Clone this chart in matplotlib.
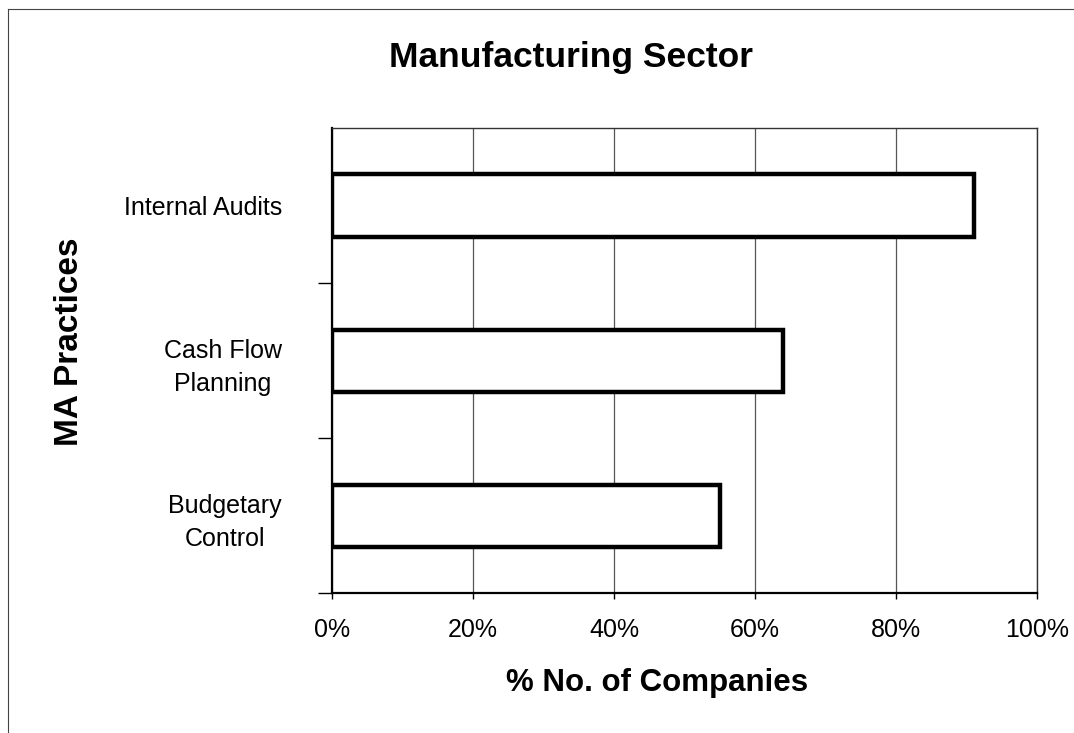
import matplotlib
matplotlib.use("Agg")
import matplotlib.pyplot as plt
from matplotlib.ticker import FixedLocator, PercentFormatter

plt.rcParams['font.family'] = ['Liberation Sans', 'DejaVu Sans']

categories = ["Budgetary\nControl", "Cash Flow\nPlanning", "Internal Audits"]
values = [55, 64, 91]
xticks = [0, 20, 40, 60, 80, 100]

fig = plt.figure(figsize=(10.74, 7.33), dpi=100)
ax = fig.add_axes([332/1074, 1-593/733, (1037-332)/1074, (593-128)/733])

ypos = list(range(len(categories)))
ax.barh(ypos, values, height=0.4, color='white', edgecolor='black', linewidth=3.2, zorder=3)

ax.set_xlim(0, 100)
ax.set_ylim(-0.5, len(categories) - 0.5)
ax.set_xticks(xticks)
ax.xaxis.set_major_formatter(PercentFormatter(decimals=0))
ax.grid(axis='x', color='#555555', linewidth=0.9, zorder=1)

ax.set_yticks(ypos)
ax.set_yticklabels(categories, fontsize=18, multialignment='center', linespacing=1.5)
ax.yaxis.set_minor_locator(FixedLocator([-0.5, 0.5, 1.5]))
ax.tick_params(axis='y', which='major', length=0, pad=36)
ax.tick_params(axis='y', which='minor', length=10, width=1, color='black', direction='out')
ax.tick_params(axis='x', which='major', length=4, width=1, labelsize=18, pad=14)

for s in ['top', 'right']:
    ax.spines[s].set_color('#333333')
    ax.spines[s].set_linewidth(1.0)
ax.spines['left'].set_linewidth(1.6)
ax.spines['bottom'].set_linewidth(1.6)

fig.text(657/1074, 1-683/733, "% No. of Companies", fontsize=22.5, fontweight='bold',
         ha='center', va='center')
fig.text(70/1074, 1-342/733, "MA Practices", rotation=90, fontsize=24, fontweight='bold',
         ha='center', va='center')
fig.text(571/1074, 1-57/733, "Manufacturing Sector", fontsize=25.5, fontweight='bold',
         ha='center', va='center')

# outer frame (left and top edges visible in the reference)
fig.add_artist(plt.Line2D([8/1074, 8/1074], [0, 1-9/733], color='#444444', linewidth=0.8,
                          transform=fig.transFigure))
fig.add_artist(plt.Line2D([8/1074, 1], [1-9/733, 1-9/733], color='#444444', linewidth=0.8,
                          transform=fig.transFigure))

fig.savefig("out.png", dpi=100)
